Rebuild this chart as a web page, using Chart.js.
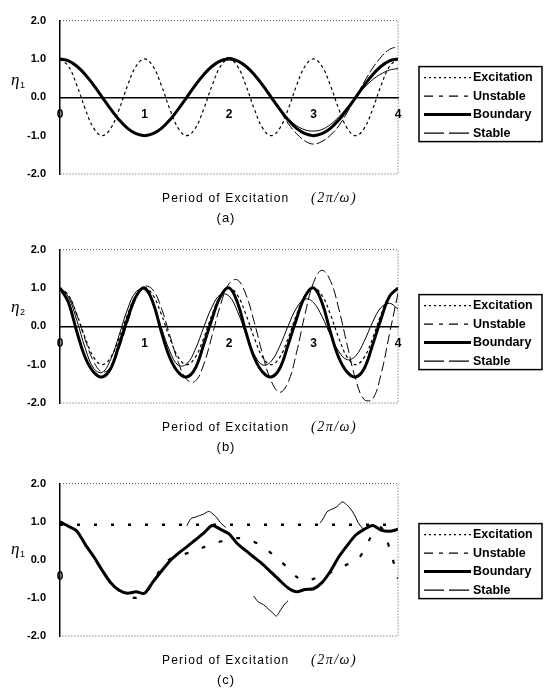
<!DOCTYPE html>
<html>
<head>
<meta charset="utf-8">
<script src="https://cdn.jsdelivr.net/npm/chart.js@4.4.0/dist/chart.umd.min.js"></script>
<style>
  body { margin: 0; background: #fff; width: 551px; height: 691px; overflow: hidden; position: relative; }
  canvas { position: absolute; left: 0; }
</style>
</head>
<body>
<canvas id="chartA" width="551" height="229" style="top:0px"></canvas>
<canvas id="chartB" width="551" height="229" style="top:229px"></canvas>
<canvas id="chartC" width="551" height="228" style="top:463px"></canvas>
<script>

// ---- data ----
const seriesNames = ['Excitation', 'Unstable', 'Boundary', 'Stable'];
const yTickValues = [-2, -1, 0, 1, 2];
const yTickLabels = ['-2.0', '-1.0', '0.0', '1.0', '2.0'];
const xTickLabels = ['0', '1', '2', '3', '4'];
const xTickLabelsC = ['0', '', '', '', ''];

const periods = [0.0, 0.1, 0.2, 0.3, 0.4, 0.5, 0.6, 0.7, 0.8, 0.9,
  1.0, 1.1, 1.2, 1.3, 1.4, 1.5, 1.6, 1.7, 1.8, 1.9,
  2.0, 2.1, 2.2, 2.3, 2.4, 2.5, 2.6, 2.7, 2.8, 2.9,
  3.0, 3.1, 3.2, 3.3, 3.4, 3.5, 3.6, 3.7, 3.8, 3.9, 4.0];

// (a)
const excitationA = [1.00, 0.81, 0.31, -0.31, -0.81, -1.00, -0.81, -0.31, 0.31, 0.81,
  1.00, 0.81, 0.31, -0.31, -0.81, -1.00, -0.81, -0.31, 0.31, 0.81,
  1.00, 0.81, 0.31, -0.31, -0.81, -1.00, -0.81, -0.31, 0.31, 0.81,
  1.00, 0.81, 0.31, -0.31, -0.81, -1.00, -0.81, -0.31, 0.31, 0.81, 1.00];
const unstableA = [1.00, 0.95, 0.81, 0.59, 0.31, 0.00, -0.31, -0.59, -0.81, -0.95,
  -1.00, -0.95, -0.81, -0.59, -0.31, 0.00, 0.31, 0.59, 0.81, 0.97,
  1.04, 0.97, 0.81, 0.59, 0.31, 0.00, -0.34, -0.68, -0.95, -1.14,
  -1.22, -1.15, -0.99, -0.74, -0.39, 0.00, 0.40, 0.76, 1.05, 1.25, 1.32];
const boundaryA = [1.00, 0.95, 0.81, 0.59, 0.31, 0.00, -0.31, -0.59, -0.81, -0.95,
  -1.00, -0.95, -0.81, -0.59, -0.31, 0.00, 0.31, 0.59, 0.81, 0.95,
  1.00, 0.95, 0.81, 0.59, 0.31, 0.00, -0.31, -0.59, -0.81, -0.95,
  -1.00, -0.95, -0.81, -0.59, -0.31, 0.00, 0.31, 0.59, 0.81, 0.95, 1.00];
const stableA = [1.00, 0.95, 0.81, 0.59, 0.31, 0.00, -0.31, -0.59, -0.81, -0.95,
  -1.00, -0.95, -0.81, -0.59, -0.31, 0.00, 0.31, 0.59, 0.81, 0.95,
  1.00, 0.95, 0.81, 0.59, 0.31, 0.00, -0.29, -0.55, -0.74, -0.85,
  -0.88, -0.84, -0.71, -0.51, -0.26, 0.00, 0.25, 0.46, 0.61, 0.71, 0.75];

// (b)
const excitationB = [1.00, 0.81, 0.31, -0.31, -0.81, -1.00, -0.81, -0.31, 0.31, 0.81,
  1.00, 0.81, 0.31, -0.31, -0.81, -1.00, -0.81, -0.31, 0.31, 0.81,
  1.00, 0.81, 0.31, -0.31, -0.81, -1.00, -0.81, -0.31, 0.31, 0.81,
  1.00, 0.81, 0.31, -0.31, -0.81, -1.00, -0.81, -0.31, 0.31, 0.81, 1.00];
const unstableB = [1.00, 0.81, 0.29, -0.36, -0.93, -1.19, -1.07, -0.57, 0.10, 0.72,
  1.04, 0.95, 0.47, -0.24, -0.94, -1.39, -1.43, -1.00, -0.24, 0.56,
  1.11, 1.21, 0.83, 0.10, -0.75, -1.43, -1.72, -1.46, -0.68, 0.32,
  1.14, 1.46, 1.19, 0.45, -0.50, -1.39, -1.91, -1.89, -1.24, -0.19, 0.86];
const boundaryB = [1.00, 0.62, -0.15, -0.82, -1.20, -1.32, -1.10, -0.48, 0.20, 0.78,
  1.00, 0.62, -0.15, -0.82, -1.20, -1.32, -1.10, -0.48, 0.20, 0.78,
  1.00, 0.62, -0.15, -0.82, -1.20, -1.32, -1.10, -0.48, 0.20, 0.78,
  1.00, 0.62, -0.15, -0.82, -1.20, -1.32, -1.10, -0.48, 0.20, 0.78, 1.00];
const stableB = [1.00, 0.76, 0.15, -0.58, -1.10, -1.20, -0.86, -0.23, 0.45, 0.90,
  0.95, 0.58, -0.04, -0.65, -1.02, -0.98, -0.61, -0.03, 0.51, 0.83,
  0.79, 0.39, -0.20, -0.74, -1.01, -0.91, -0.52, 0.01, 0.48, 0.71,
  0.62, 0.26, -0.23, -0.66, -0.87, -0.77, -0.39, 0.11, 0.49, 0.60, 0.45];

// (c)
const excitationC = [0.92, 0.92, 0.92, 0.92, 0.92, 0.92, 0.92, 0.92, 0.92, 0.92,
  0.92, 0.92, 0.92, 0.92, 0.92, 0.92, 0.92, 0.92, 0.92, 0.92,
  0.92, 0.92, 0.92, 0.92, 0.92, 0.92, 0.92, 0.92, 0.92, 0.92,
  0.92, 0.92, 0.92, 0.92, 0.92, 0.92, 0.92, 0.92, 0.92, 0.92, 0.92];
const unstableC = [1.00, 0.88, 0.75, 0.40, 0.08, -0.28, -0.60, -0.80, -0.95, -1.00,
  -0.90, -0.60, -0.20, 0.02, 0.10, 0.17, 0.23, 0.33, 0.42, 0.48,
  0.53, 0.57, 0.55, 0.47, 0.35, 0.17, -0.02, -0.22, -0.45, -0.55,
  -0.50, -0.42, -0.33, -0.22, -0.12, -0.04, 0.25, 0.68, 0.85, 0.30, -0.50];
const boundaryC = [1.00, 0.88, 0.75, 0.40, 0.08, -0.28, -0.60, -0.80, -0.88, -0.84,
  -0.88, -0.58, -0.30, -0.03, 0.17, 0.34, 0.52, 0.70, 0.90, 0.80,
  0.68, 0.42, 0.24, 0.06, -0.12, -0.33, -0.54, -0.74, -0.84, -0.78,
  -0.76, -0.60, -0.30, 0.08, 0.38, 0.65, 0.80, 0.90, 0.78, 0.75, 0.80];
const stableCx = [1.50, 1.55, 1.60, 1.65, 1.70, 1.76, 1.80, 1.85, 1.90, 1.96,
  2.10,
  2.29, 2.35, 2.41, 2.47, 2.53, 2.56, 2.61, 2.66, 2.70,
  2.90,
  3.08, 3.12, 3.16, 3.22, 3.28, 3.34, 3.39, 3.43, 3.48, 3.53, 3.59];
const stableCy = [0.89, 1.08, 1.12, 1.16, 1.20, 1.27, 1.22, 1.12, 0.97, 0.85,
  null,
  -0.95, -1.11, -1.18, -1.30, -1.42, -1.48, -1.32, -1.16, -1.07,
  null,
  0.97, 1.10, 1.26, 1.33, 1.40, 1.52, 1.45, 1.36, 1.20, 0.97, 0.80];

// ---- styles ----
Chart.defaults.font.family = '"Liberation Sans", Arial, sans-serif';
Chart.defaults.color = '#000';

const legendStyles = [
  { dash: [2, 3], width: 1.2 },
  { dash: [9, 6, 4, 6], width: 1.1 },
  { dash: [], width: 3 },
  { dash: [20, 5], width: 1.2 }
];

function line(label, xs, ys, width, dash, tension) {
  return {
    label: label,
    data: xs.map((x, i) => ({ x: x, y: ys[i] })),
    borderColor: '#000',
    borderWidth: width,
    borderDash: dash,
    pointRadius: 0,
    fill: false,
    spanGaps: false,
    tension: tension
  };
}

// frame, legend, axis names and caption
const decorations = {
  id: 'decorations',
  afterDraw(chart, args, opts) {
    const ctx = chart.ctx;
    const a = chart.chartArea;
    ctx.save();

    ctx.strokeStyle = '#555';
    ctx.lineWidth = 1;
    ctx.setLineDash([1, 2]);
    ctx.beginPath();
    ctx.moveTo(a.left, a.top);
    ctx.lineTo(a.right, a.top);
    ctx.lineTo(a.right, a.bottom);
    ctx.lineTo(a.left, a.bottom);
    ctx.stroke();

    // legend box
    const lx = a.right + 21, ly = a.top + opts.legendY;
    ctx.setLineDash([]);
    ctx.strokeStyle = '#000';
    ctx.lineWidth = 1.5;
    ctx.strokeRect(lx, ly, 123, 75);
    ctx.font = 'bold 12.5px "Liberation Sans", Arial, sans-serif';
    ctx.textBaseline = 'middle';
    ctx.fillStyle = '#000';
    seriesNames.forEach((name, i) => {
      const y = ly + 11 + i * 18.5;
      ctx.setLineDash(legendStyles[i].dash);
      ctx.lineWidth = legendStyles[i].width;
      ctx.beginPath();
      ctx.moveTo(lx + 5, y);
      ctx.lineTo(lx + 52, y);
      ctx.stroke();
      ctx.setLineDash([]);
      ctx.fillText(name, lx + 54, y);
    });

    // eta label
    ctx.textBaseline = 'alphabetic';
    ctx.font = 'italic 17px "Liberation Serif", serif';
    ctx.fillText('η', 11, a.top + opts.etaY);
    ctx.font = '9px "Liberation Sans", Arial, sans-serif';
    ctx.fillText(opts.sub, 20, a.top + opts.etaY + 3);

    // x title
    ctx.font = '12px "Liberation Sans", Arial, sans-serif';
    ctx.letterSpacing = '1.2px';
    ctx.fillText('Period of Excitation', 162, a.bottom + 28);
    ctx.font = 'italic 14px "Liberation Serif", serif';
    ctx.letterSpacing = '1.5px';
    ctx.fillText('(2π/ω)', 311, a.bottom + 28);

    ctx.font = '13px "Liberation Sans", Arial, sans-serif';
    ctx.letterSpacing = '1px';
    ctx.textAlign = 'center';
    ctx.fillText(opts.caption, 226, a.bottom + 48);
    ctx.restore();
  }
};

function makeChart(id, sets, opts) {
  return new Chart(document.getElementById(id), {
    type: 'line',
    data: { datasets: sets },
    plugins: [decorations],
    options: {
      responsive: false,
      animation: false,
      layout: { padding: { left: 0, right: 153, top: 12, bottom: 55 } },
      plugins: {
        legend: { display: false },
        tooltip: { enabled: false },
        decorations: opts
      },
      scales: {
        x: {
          type: 'linear',
          min: 0,
          max: 4,
          position: { y: 0 },
          grid: { display: false, drawTicks: false },
          border: { display: opts.zeroLine, color: '#000', width: 1.5 },
          ticks: {
            stepSize: 1,
            padding: 10,
            font: { size: 12, weight: 'bold' },
            color: '#000',
            callback: v => opts.xLabels[v]
          }
        },
        y: {
          min: -2,
          max: 2,
          grid: { display: false, drawTicks: false },
          border: { display: true, color: '#000', width: 1.5 },
          afterFit(scale) { scale.width = 60; },
          ticks: {
            stepSize: 1,
            padding: 14,
            font: { size: 11, weight: 'bold' },
            color: '#000',
            callback: v => yTickLabels[yTickValues.indexOf(v)]
          }
        }
      }
    }
  });
}

makeChart('chartA', [
  line('Excitation', periods, excitationA, 1.2, [3, 3], 0.4),
  line('Unstable', periods, unstableA, 1, [10, 3], 0.4),
  line('Boundary', periods, boundaryA, 3, [], 0.4),
  line('Stable', periods, stableA, 1, [], 0.4)
], { legendY: 46, etaY: 64, sub: '1', caption: '(a)', zeroLine: true, xLabels: xTickLabels });

makeChart('chartB', [
  line('Excitation', periods, excitationB, 1.2, [3, 3], 0.4),
  line('Unstable', periods, unstableB, 1, [10, 4], 0.4),
  line('Boundary', periods, boundaryB, 3, [], 0.4),
  line('Stable', periods, stableB, 1, [], 0.4)
], { legendY: 45, etaY: 62, sub: '2', caption: '(b)', zeroLine: true, xLabels: xTickLabels });

makeChart('chartC', [
  line('Excitation', periods, excitationC, 2.4, [3, 14], 0),
  line('Unstable', periods, unstableC, 2.2, [4, 14], 0.3),
  line('Boundary', periods, boundaryC, 3, [], 0.25),
  line('Stable', stableCx, stableCy, 1, [], 0.3)
], { legendY: 40, etaY: 70, sub: '1', caption: '(c)', zeroLine: false, xLabels: xTickLabelsC });

</script>
</body>
</html>
